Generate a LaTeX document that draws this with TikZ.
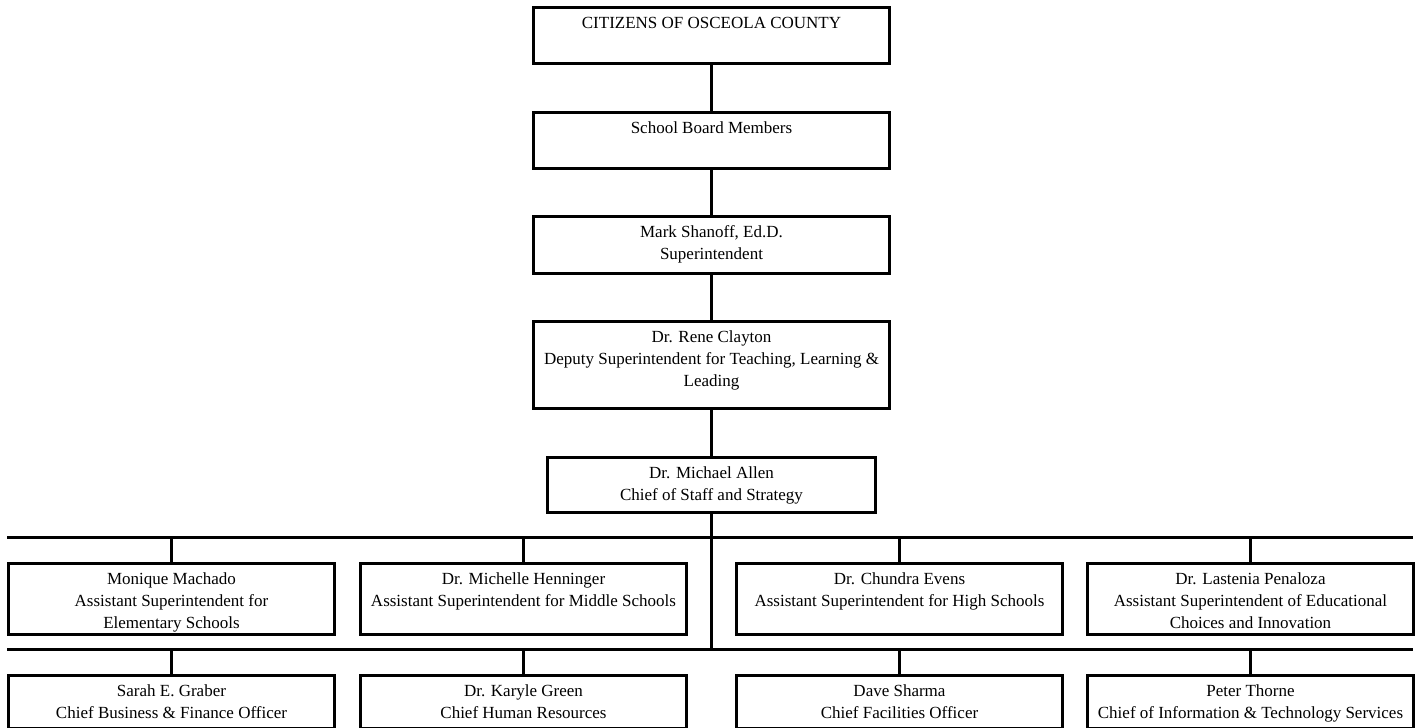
\documentclass[tikz,border=0pt]{standalone}
\usepackage{fontspec}
\setmainfont{Liberation Serif}
\usetikzlibrary{positioning}
\newcommand{\orgcell}[3]{\parbox[t][#2][t]{#1}{\centering\rule{0pt}{10.5pt}#3}}
\begin{document}
\begin{tikzpicture}[x=0.5pt,y=-0.5pt,
    orgbox/.style={draw, line width=1.5pt, inner sep=0pt, anchor=north west,
      font=\fontsize{8.5}{11}\selectfont},
    link/.style={line width=1.5pt}]
  \useasboundingbox (0,0) rectangle (1420,728);
  % top of the chart
  \node[orgbox] (citizens) at (532,6) {\orgcell{178pt}{28pt}{CITIZENS OF OSCEOLA COUNTY}};
  \node[orgbox] (board) at (532,111) {\orgcell{178pt}{28pt}{School Board Members}};
  \node[orgbox] (supt) at (532,215) {\orgcell{178pt}{28.5pt}{Mark Shanoff, Ed.D.\\Superintendent}};
  \node[orgbox] (deputy) at (532,320) {\orgcell{178pt}{43.5pt}{Dr. Rene Clayton\\Deputy Superintendent for Teaching, Learning \&\\Leading}};
  \node[orgbox] (staff) at (546,456) {\orgcell{164pt}{27.5pt}{Dr. Michael Allen\\Chief of Staff and Strategy}};
  % assistant superintendents
  \node[orgbox] (elem) at (7,562) {\orgcell{163pt}{35.5pt}{Monique Machado\\Assistant Superintendent for\\Elementary Schools}};
  \node[orgbox] (middle) at (359,562) {\orgcell{163pt}{35.5pt}{Dr. Michelle Henninger\\Assistant Superintendent for Middle Schools}};
  \node[orgbox] (high) at (735,562) {\orgcell{163pt}{35.5pt}{Dr. Chundra Evens\\Assistant Superintendent for High Schools}};
  \node[orgbox] (choice) at (1086,562) {\orgcell{163pt}{35.5pt}{Dr. Lastenia Penaloza\\Assistant Superintendent of Educational\\Choices and Innovation}};
  % chiefs
  \node[orgbox] (finance) at (7,674) {\orgcell{163pt}{26.5pt}{Sarah E. Graber\\Chief Business \& Finance Officer}};
  \node[orgbox] (hr) at (359,674) {\orgcell{163pt}{26.5pt}{Dr. Karyle Green\\Chief Human Resources}};
  \node[orgbox] (facil) at (735,674) {\orgcell{163pt}{26.5pt}{Dave Sharma\\Chief Facilities Officer}};
  \node[orgbox] (tech) at (1086,674) {\orgcell{163pt}{26.5pt}{Peter Thorne\\Chief of Information \& Technology Services}};

  \coordinate (barAw) at (7,537);
  \coordinate (barAe) at (1413,537);
  \coordinate (barBw) at (7,649);
  \coordinate (barBe) at (1413,649);

  \draw[link] (citizens) -- (board);
  \draw[link] (board) -- (supt);
  \draw[link] (supt) -- (deputy);
  \draw[link] (deputy) -- (staff);
  \draw[link] (staff.south) -- (staff.south |- barBw);
  \draw[link] (barAw) -- (barAe);
  \draw[link] (barBw) -- (barBe);
  \foreach \n in {elem,middle,high,choice}
    \draw[link] (\n.north) -- (\n.north |- barAw);
  \foreach \n in {finance,hr,facil,tech}
    \draw[link] (\n.north) -- (\n.north |- barBw);
\end{tikzpicture}
\end{document}
